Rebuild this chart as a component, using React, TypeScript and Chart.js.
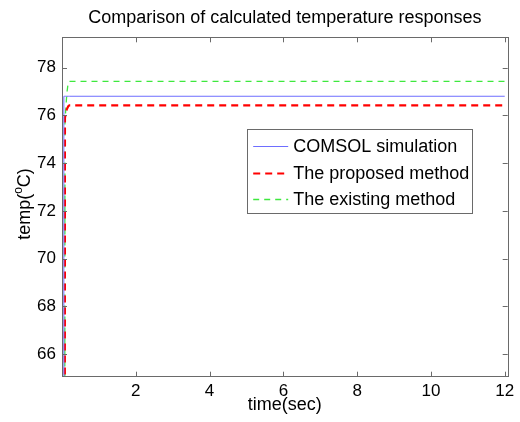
import React, { useEffect, useRef } from "react";
import { Chart, registerables } from "chart.js";

Chart.register(...registerables);

// ---- data ----
const timeSec = [0, 0.02, 0.03, 0.05, 0.07, 0.08, 0.1, 0.13, 0.17, 0.2, 12];
const comsolSim = [25, 25, 40, 76.8, 76.8, 76.8, 76.8, 76.8, 76.8, 76.8, 76.8];
const proposedMethod = [25, 25, 25, 25, 40, 75.9, 76.05, 76.25, 76.38, 76.42, 76.42];
const existingMethod = [25, 25, 25, 25, 40, 75.7, 76.2, 76.9, 77.4, 77.42, 77.42];
const seriesLabels = ["COMSOL simulation", "The proposed method", "The existing method"];
const xTickValues = [2, 4, 6, 8, 10, 12];
const yTickValues = [66, 68, 70, 72, 74, 76, 78];
const chartTitle = "Comparison of calculated temperature responses";
const xTitle = "time(sec)";

const FONT = "Liberation Sans, Arial, Helvetica, sans-serif";

const toPoints = (ys: number[]) => timeSec.map((t, i) => ({ x: t, y: ys[i] }));

const framePlugin = {
  id: "frameTicks",
  afterDraw(chart: any) {
    const { ctx, chartArea, scales } = chart;
    const { left, right, top, bottom } = chartArea;
    ctx.save();
    ctx.strokeStyle = "#6a6a6a";
    ctx.lineWidth = 1;
    ctx.setLineDash([]);
    ctx.strokeRect(Math.round(left) + 0.5, Math.round(top) + 0.5, Math.round(right - left), Math.round(bottom - top));
    const tl = 5;
    ctx.beginPath();
    for (const v of xTickValues) {
      const x = Math.round(scales.x.getPixelForValue(v)) + 0.5;
      ctx.moveTo(x, bottom);
      ctx.lineTo(x, bottom - tl);
      ctx.moveTo(x, top);
      ctx.lineTo(x, top + tl);
    }
    for (const v of yTickValues) {
      const y = Math.round(scales.y.getPixelForValue(v)) + 0.5;
      ctx.moveTo(left, y);
      ctx.lineTo(left + tl, y);
      ctx.moveTo(right, y);
      ctx.lineTo(right - tl, y);
    }
    ctx.stroke();

    // title
    ctx.fillStyle = "#000";
    ctx.font = `18px ${FONT}`;
    ctx.textAlign = "center";
    ctx.textBaseline = "alphabetic";
    ctx.fillText(chartTitle, (left + right) / 2, 22.7);

    // x title
    ctx.textBaseline = "middle";
    ctx.fillText(xTitle, (left + right) / 2, 405);

    // y title with superscript
    ctx.save();
    ctx.translate(30, (top + bottom) / 2 - 3);
    ctx.rotate(-Math.PI / 2);
    const big = `18px ${FONT}`;
    const small = `12px ${FONT}`;
    ctx.font = big;
    const w1 = ctx.measureText("temp(").width;
    const w3 = ctx.measureText("C)").width;
    ctx.font = small;
    const w2 = ctx.measureText("o").width;
    const total = w1 + w2 + w3;
    let x = -total / 2;
    ctx.textAlign = "left";
    ctx.textBaseline = "alphabetic";
    ctx.font = big;
    ctx.fillText("temp(", x, 0);
    x += w1;
    ctx.font = small;
    ctx.fillText("o", x, -8);
    x += w2;
    ctx.font = big;
    ctx.fillText("C)", x, 0);
    ctx.restore();

    // legend
    const bx = right - 260.5;
    const by = top + 92;
    const bw = 225;
    const bh = 84;
    ctx.fillStyle = "#fff";
    ctx.fillRect(bx, by, bw, bh);
    ctx.strokeStyle = "#6a6a6a";
    ctx.lineWidth = 1;
    ctx.strokeRect(Math.round(bx) + 0.5, Math.round(by) + 0.5, bw, bh);
    chart.data.datasets.forEach((ds: any, i: number) => {
      const ry = Math.round(by + 17 + i * 26.5) + 0.5;
      ctx.strokeStyle = ds.borderColor;
      ctx.lineWidth = ds.borderWidth;
      ctx.setLineDash(ds.borderDash || []);
      ctx.beginPath();
      ctx.moveTo(bx + 6, ry);
      ctx.lineTo(bx + 41, ry);
      ctx.stroke();
      ctx.setLineDash([]);
      ctx.fillStyle = "#000";
      ctx.font = `18px ${FONT}`;
      ctx.textAlign = "left";
      ctx.textBaseline = "middle";
      ctx.fillText(ds.label, bx + 46, ry + 1);
    });
    ctx.restore();
  },
};

export default function App() {
  const ref = useRef<HTMLCanvasElement | null>(null);
  useEffect(() => {
    if (!ref.current) return;
    const chart = new Chart(ref.current, {
      type: "line",
      data: {
        datasets: [
          {
            label: seriesLabels[0],
            data: toPoints(comsolSim),
            borderColor: "#6e6eff",
            borderWidth: 1,
            pointRadius: 0,
            tension: 0,
          },
          {
            label: seriesLabels[1],
            data: toPoints(proposedMethod),
            borderColor: "#ff0000",
            borderWidth: 2.2,
            borderDash: [7, 5],
            pointRadius: 0,
            tension: 0,
          },
          {
            label: seriesLabels[2],
            data: toPoints(existingMethod),
            borderColor: "#3ee83e",
            borderWidth: 1.3,
            borderDash: [6, 5],
            pointRadius: 0,
            tension: 0,
          },
        ],
      },
      options: {
        responsive: false,
        animation: false,
        layout: { padding: { left: 0, right: 12.3, top: 37.3, bottom: 0 } },
        plugins: {
          legend: { display: false },
          tooltip: { enabled: false },
          title: { display: false },
        },
        scales: {
          x: {
            type: "linear",
            min: 0,
            max: 12.08,
            grid: { display: false, drawTicks: false },
            border: { display: false },
            afterBuildTicks: (s: any) => {
              s.ticks = xTickValues.map((v) => ({ value: v }));
            },
            afterFit: (s: any) => {
              s.height = 45.3;
            },
            ticks: {
              color: "#000",
              font: { family: FONT, size: 17 },
              padding: 4,
              maxRotation: 0,
              autoSkip: false,
              callback: (v: any) => String(v),
            },
          },
          y: {
            type: "linear",
            min: 65.05,
            max: 79.27,
            grid: { display: false, drawTicks: false },
            border: { display: false },
            afterBuildTicks: (s: any) => {
              s.ticks = yTickValues.map((v) => ({ value: v }));
            },
            afterFit: (s: any) => {
              s.width = 62;
            },
            ticks: {
              color: "#000",
              font: { family: FONT, size: 17 },
              padding: 6,
              autoSkip: false,
              callback: (v: any) => String(v),
            },
          },
        },
      },
      plugins: [framePlugin],
    });
    return () => chart.destroy();
  }, []);
  return (
    <div style={{ position: "fixed", left: 0, top: 0, width: 520, height: 422, background: "#fff" }}>
      <canvas ref={ref} width={520} height={422} />
    </div>
  );
}
